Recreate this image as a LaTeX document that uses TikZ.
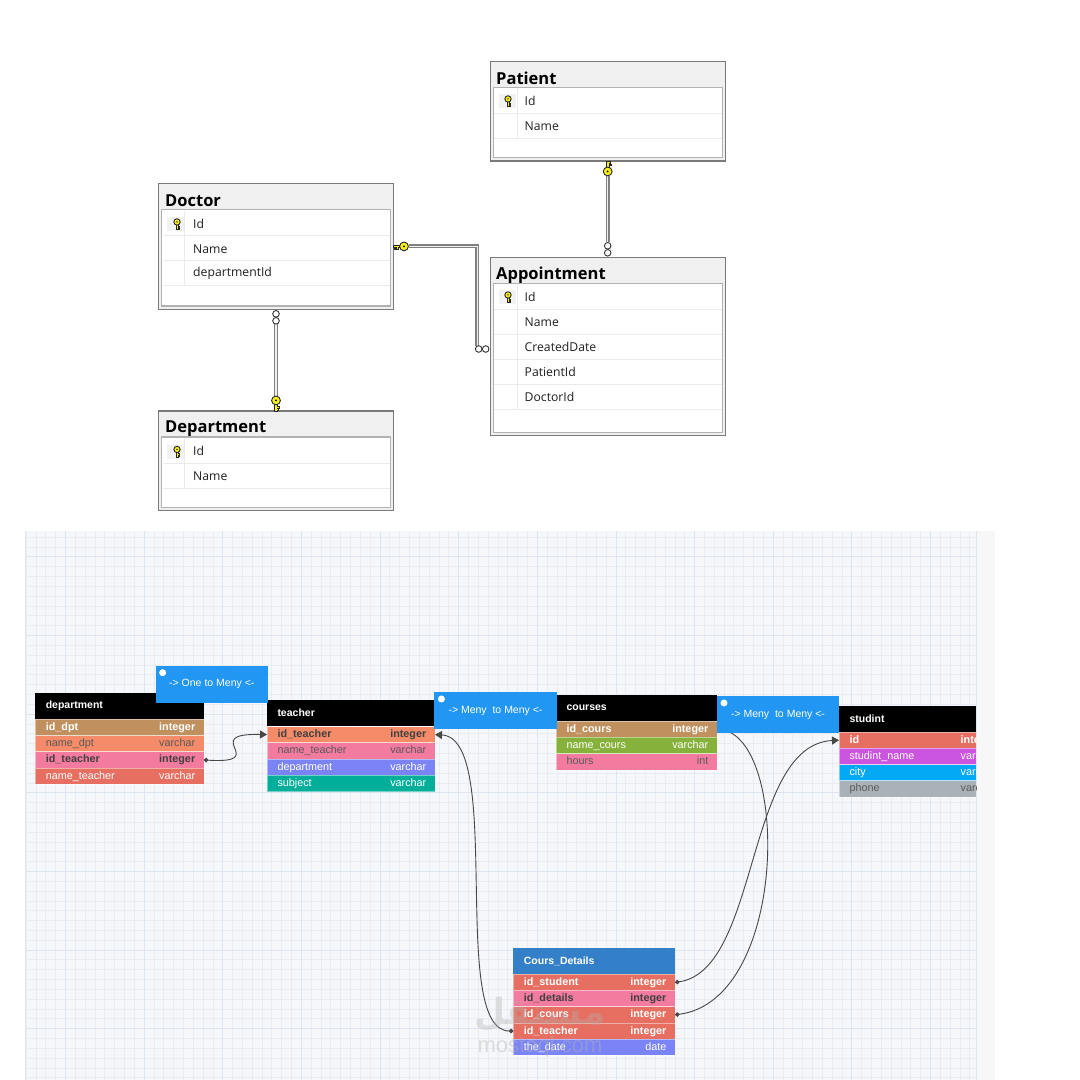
\documentclass[tikz,border=0pt]{standalone}
\usepackage{fontspec}
\usetikzlibrary{arrows.meta}
\TeXXeTstate=1
\newfontfamily\ssfont{Open Sans}
\newfontfamily\dbfont{Liberation Sans}
\newfontfamily\logofont[Script=Arabic]{DejaVu Sans}
\definecolor{rowbrown}{HTML}{C0905F}
\definecolor{rowsalmon}{HTML}{F58B68}
\definecolor{rowpink}{HTML}{F47BA0}
\definecolor{rowred}{HTML}{E76F62}
\definecolor{rowblue}{HTML}{7A84F6}
\definecolor{rowteal}{HTML}{00AE9A}
\definecolor{rowgreen}{HTML}{86B13A}
\definecolor{rowviolet}{HTML}{CC55E0}
\definecolor{rowsky}{HTML}{03A9F4}
\definecolor{rowgrey}{HTML}{AAB2B8}
\definecolor{relblue}{HTML}{2196F3}
\definecolor{headblue}{HTML}{3380C8}
\definecolor{keyyellow}{HTML}{F5EE1E}
\definecolor{canvasbg}{HTML}{F5F7FA}
\definecolor{canvasstrip}{HTML}{F7F7F8}
\definecolor{gridminor}{HTML}{E8EDF5}
\definecolor{gridmajor}{HTML}{DDE5F1}
\tikzset{
    dbkey/.pic={
        \filldraw[fill=keyyellow, draw=black!85, line width=.6pt] (-1.3,0) -- (-1.3,-7) -- (1.3,-7) -- (1.3,-4.6) -- (3.2,-4.6) -- (3.2,-3) -- (1.3,-3) -- (1.3,-2.2) -- (2.6,-2.2) -- (2.6,-.8) -- (1.3,-.8) -- (1.3,0) -- cycle;
        \filldraw[fill=keyyellow, draw=black!85, line width=.9pt] (0,-10.5) circle (4.4);
        \fill[black] (0,-10.5) circle (1);
    },
    dbmany/.pic={
        \filldraw[fill=white, draw=black!80, line width=.9pt] (0,-4.5) circle (3.3);
        \filldraw[fill=white, draw=black!80, line width=.9pt] (0,-11.5) circle (3.3);
    }
}
\begin{document}
\begin{tikzpicture}[
    x=1pt, y=-1pt,
    sstable/.style={rectangle, draw=black!52, line width=1.4pt, fill=black!6, minimum width=235pt, inner sep=0, outer sep=0},
    ssinner/.style={rectangle, draw=black!30, line width=1.2pt, fill=white, minimum width=229pt, inner sep=0},
    sskeycell/.style={rectangle, fill=black!5, minimum width=17pt, minimum height=14pt, inner sep=0},
    sstitle/.style={anchor=west, inner sep=0, text=black, font=\ssfont\bfseries\fontsize{16.5}{19}\selectfont},
    ssrow/.style={anchor=west, inner sep=0, text=black!88, font=\ssfont\fontsize{12.2}{14}\selectfont},
    sssep/.style={draw=black!8, line width=.8pt},
    rel/.style={draw=black!50, line width=1.4pt, double=black!6, double distance=1.2pt},
    dbhead/.style={rectangle, fill=black, inner ysep=0, inner xsep=10.5pt, outer sep=0, minimum height=26.5pt, align=left, text=white, font=\dbfont\bfseries\fontsize{10.5}{12}\selectfont},
    dbrow/.style={rectangle, draw=white, draw opacity=.45, line width=.7pt, inner ysep=0, inner xsep=10.5pt, outer sep=0, minimum height=16.25pt, text height=8pt, text depth=2pt, align=left},
    dbtype/.style={anchor=east, inner ysep=0, inner xsep=8.5pt, text height=8pt, text depth=2pt},
    litbold/.style={text=white, font=\dbfont\bfseries\fontsize{10.8}{12}\selectfont},
    lit/.style={text=white, font=\dbfont\fontsize{10.8}{12}\selectfont},
    dimbold/.style={text=black!75, font=\dbfont\bfseries\fontsize{10.8}{12}\selectfont},
    dim/.style={text=black!65, font=\dbfont\fontsize{10.8}{12}\selectfont},
    relbox/.style={rectangle, fill=relblue, inner sep=0, outer sep=0, minimum height=37.3pt, text=white, font=\dbfont\fontsize{10.5}{12}\selectfont},
    relknob/.style={circle, fill=white, inner sep=0, minimum size=7pt},
    link/.style={draw=black!72, line width=.9pt, {Circle[length=4.5pt]}-{Triangle[length=7pt,width=8pt]}}
]
\useasboundingbox (0,0) rectangle (1080,1080);

% SQL diagram
\node[sstable, minimum height=99.3pt] (patient) at (607.7,111.3) {};
\node[sstitle] (patient-title) at (496,78) {Patient};
\node[ssinner, minimum height=70.2pt] (patient-inner) at (607.7,122.6) {};
\node[sskeycell] (patient-keycell) at (507,101) {};
\foreach \i/\lab in {1/Id,2/Name} {
    \node[ssrow] (patient-\i) at (524.5,{75.8+25*\i}) {\lab};
    \draw[sssep] (494,{88.3+25*\i}) -- (721.5,{88.3+25*\i});
}
\draw[sssep] (517,88.3) -- (517,138.3);
\pic[scale=.72] at (508,106.5) {dbkey};

\node[sstable, minimum height=125.8pt] (doctor) at (276,246.4) {};
\node[sstitle] (doctor-title) at (165,201) {Doctor};
\node[ssinner, minimum height=96.5pt] (doctor-inner) at (276,257.75) {};
\node[sskeycell] (doctor-keycell) at (175.5,224) {};
\foreach \i/\lab in {1/Id,2/Name,3/departmentId} {
    \node[ssrow] (doctor-\i) at (193,{198.7+25*\i}) {\lab};
    \draw[sssep] (162.5,{210.5+25*\i}) -- (390,{210.5+25*\i});
}
\draw[sssep] (184.5,210.5) -- (184.5,285.5);
\pic[scale=.72] at (177,229.5) {dbkey};

\node[sstable, minimum height=99.7pt] (department) at (276,460.8) {};
\node[sstitle] (department-title) at (165,428.5) {Department};
\node[ssinner, minimum height=70.4pt] (department-inner) at (276,472.2) {};
\node[sskeycell] (department-keycell) at (175.5,451.5) {};
\foreach \i/\lab in {1/Id,2/Name} {
    \node[ssrow] (department-\i) at (193,{426+25*\i}) {\lab};
    \draw[sssep] (162.5,{438.5+25*\i}) -- (390,{438.5+25*\i});
}
\draw[sssep] (184.5,438.5) -- (184.5,488.5);
\pic[scale=.72] at (177,457) {dbkey};

\node[sstable, minimum height=178.4pt] (appointment) at (607.7,346.5) {};
\node[sstitle] (appointment-title) at (496,275) {Appointment};
\node[ssinner, minimum height=149pt] (appointment-inner) at (607.7,357.85) {};
\node[sskeycell] (appointment-keycell) at (507,297) {};
\foreach \i/\lab in {1/Id,2/Name,3/CreatedDate,4/PatientId,5/DoctorId} {
    \node[ssrow] (appointment-\i) at (524.5,{272+25*\i}) {\lab};
    \draw[sssep] (494,{284.5+25*\i}) -- (721.5,{284.5+25*\i});
}
\draw[sssep] (517,284.5) -- (517,409.5);
\pic[scale=.72] at (508,302.5) {dbkey};

\coordinate (appointment-join) at ([xshift=-13pt,yshift=-2.5pt]appointment.west);
\draw[rel, shorten <=15pt, shorten >=15pt] (patient.south) -- (appointment.north);
\draw[rel, shorten <=15pt, shorten >=15pt] (doctor.south) -- (department.north);
\draw[rel, shorten <=15pt, shorten >=3pt] (doctor.east) -| (appointment-join);
\pic[rotate=180, xscale=-1] at (patient.south) {dbkey};
\pic at (department.north) {dbkey};
\pic[rotate=-90] at (doctor.east) {dbkey};
\pic at (appointment.north) {dbmany};
\pic[rotate=180] at (doctor.south) {dbmany};
\pic[rotate=90] at ([yshift=-2.5pt]appointment.west) {dbmany};

% canvas
\fill[canvasstrip] (25,531) rectangle (995,1080);
\fill[canvasbg] (25,531) rectangle (976,1080);
\foreach \k in {-4,...,92}
    \draw[gridminor, line width=.5pt] ({65.3+9.83*\k},531) -- ({65.3+9.83*\k},1080);
\foreach \k in {-2,...,53}
    \draw[gridminor, line width=.5pt] (25,{556.7+9.83*\k}) -- (976,{556.7+9.83*\k});
\foreach \k in {0,...,11}
    \draw[gridmajor, line width=.5pt] ({65.3+78.64*\k},531) -- ({65.3+78.64*\k},1080);
\foreach \k in {0,...,6}
    \draw[gridmajor, line width=.5pt] (25,{556.7+78.64*\k}) -- (976,{556.7+78.64*\k});
\draw[black!10, line width=1pt] (25.5,531) -- (25.5,1080);
\draw[gridmajor, line width=1pt] (976,531) -- (976,1080);

% tables
\node[dbhead, text width=147.6pt] (dept) at (119.6,706) {department};
\foreach \i/\lab/\kind/\col/\txt in {1/id\_dpt/integer/rowbrown/litbold, 2/name\_dpt/varchar/rowsalmon/dim, 3/id\_teacher/integer/rowpink/dimbold, 4/name\_teacher/varchar/rowred/lit} {
    \node[dbrow, \txt, fill=\col, text width=147.6pt] (dept-\i) at (119.6,{719.3+16.25*(\i-.5)}) {\lab};
    \node[dbtype, \txt] (dept-\i-type) at (dept-\i.east) {\kind};
}

\node[dbhead, text width=147pt] (teacher) at (351,713.2) {teacher};
\foreach \i/\lab/\kind/\col/\txt in {1/id\_teacher/integer/rowsalmon/dimbold, 2/name\_teacher/varchar/rowpink/dim, 3/department/varchar/rowblue/lit, 4/subject/varchar/rowteal/lit} {
    \node[dbrow, \txt, fill=\col, text width=147pt] (teacher-\i) at (351,{726.5+16.25*(\i-.5)}) {\lab};
    \node[dbtype, \txt] (teacher-\i-type) at (teacher-\i.east) {\kind};
}

\node[dbhead, text width=140pt] (courses) at (636.5,708) {courses};
\foreach \i/\lab/\kind/\col/\txt in {1/id\_cours/integer/rowbrown/litbold, 2/name\_cours/varchar/rowgreen/lit, 3/hours/int/rowpink/dim} {
    \node[dbrow, \txt, fill=\col, text width=140pt] (courses-\i) at (636.5,{721+16.33*(\i-.5)}) {\lab};
    \node[dbtype, \txt] (courses-\i-type) at (courses-\i.east) {\kind};
}

\node[dbhead, text width=116pt] (studint) at (907.5,718.8) {studint};
\begin{scope}
\clip (839,700) rectangle (976,800);
\foreach \i/\lab/\kind/\col/\txt in {1/id/integer/rowred/litbold, 2/studint\_name/varchar/rowviolet/lit, 3/city/varchar/rowsky/lit, 4/phone/varchar/rowgrey/dim} {
    \node[dbrow, \txt, fill=\col, text width=116pt] (studint-\i) at (907.5,{732+16.25*(\i-.5)}) {\lab};
    \node[anchor=west, inner sep=0, text height=8pt, text depth=2pt, \txt] (studint-\i-type) at (960.5,{732+16.25*(\i-.5)}) {\kind};
}
\end{scope}

\node[dbhead, fill=headblue, text width=140.7pt] (details) at (594.2,961) {Cours\_Details};
\foreach \i/\lab/\kind/\col/\txt in {1/id\_student/integer/rowred/litbold, 2/id\_details/integer/rowpink/dimbold, 3/id\_cours/integer/rowred/litbold, 4/id\_teacher/integer/rowred/litbold, 5/the\_date/date/rowblue/lit} {
    \node[dbrow, \txt, fill=\col, text width=140.7pt] (details-\i) at (594.2,{974.3+16.2*(\i-.5)}) {\lab};
    \node[dbtype, \txt] (details-\i-type) at (details-\i.east) {\kind};
}

% links
\draw[link] (dept-3.east) .. controls (272,764) and (198,733) .. (teacher-1.west);
\draw[link] (details-4.west) .. controls (448,1031) and (505,738) .. (teacher-1.east);
\draw[link] (details-1.east) .. controls (760,970) and (745,745) .. (studint-1.west);
\draw[link, {Circle[length=4.5pt]}-] (details-3.east) .. controls (790,1000) and (790,729) .. (courses-1.east);

% relation labels
\node[relbox, minimum width=112.3pt] (onemeny) at (211.8,684.3) {-> One to Meny <-};
\node[relbox, minimum width=122.1pt] (menymeny) at (495.5,710.6) {-> Meny\ \ to Meny <-};
\node[relbox, minimum width=122pt] (menymeny-two) at (778,714.6) {-> Meny\ \ to Meny <-};
\node[relknob] (onemeny-knob) at ([xshift=7pt,yshift=-7pt]onemeny.north west) {};
\node[relknob] (menymeny-knob) at ([xshift=7pt,yshift=-7pt]menymeny.north west) {};
\node[relknob] (menymeny-two-knob) at ([xshift=7pt,yshift=-7pt]menymeny-two.north west) {};

% watermark
\node[inner sep=0, text=black!30, opacity=.35, font=\logofont\bfseries\fontsize{36}{40}\selectfont] (mark-logo) at (540,1014) {\beginR مستقل\endR};
\node[inner sep=0, text=black!30, opacity=.4, font=\dbfont\fontsize{22}{24}\selectfont] (mark-site) at (540,1047) {mostaql.com};
\end{tikzpicture}
\end{document}
